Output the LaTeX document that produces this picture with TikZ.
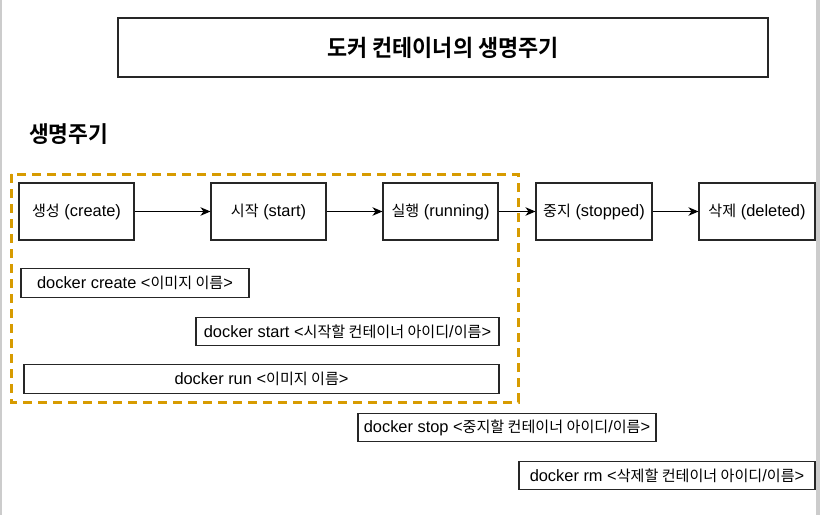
\documentclass[tikz,border=0pt]{standalone}
\usepackage{fontspec}
\setmainfont{Liberation Sans}
\newfontfamily\krf{Noto Sans CJK KR}[Scale=0.92]
\newfontfamily\krb{Noto Sans CJK KR Bold}
\newcommand{\kr}[1]{{\krf #1}}
\usetikzlibrary{arrows.meta}
\definecolor{dashorange}{HTML}{D79B00}
\begin{document}
\begin{tikzpicture}[x=1pt,y=-1pt,
  box/.style={draw=black!85,line width=1.05pt,rectangle,inner sep=0pt,fill=white,
    font=\fontsize{16.4}{19}\selectfont},
  cmd/.style={box,minimum height=28.5pt},
  state/.style={box,minimum width=115pt,minimum height=57pt},
  flow/.style={draw=black,line width=1.1pt,-{Stealth[length=10pt,width=8.5pt,inset=3pt]}},
  group/.style={draw=dashorange,line width=3pt,dash pattern=on 9pt off 6pt}]
\useasboundingbox (0,0) rectangle (820,515);
\fill[white] (0,0) rectangle (820,515);
\fill[black!20] (0,0) rectangle (2,515);
\fill[black!20] (816,0) rectangle (820,515);

\node[box,minimum width=650pt,minimum height=59pt] (title) at (443,47.5)
  {\scalebox{0.95}[1]{\krb\fontsize{23}{27}\selectfont 도커 컨테이너의 생명주기}};
\node[inner sep=0pt,anchor=west] (heading) at (29,134)
  {\scalebox{0.955}[1]{\krb\fontsize{22.5}{26}\selectfont 생명주기}};

\draw[group] (11,174) rectangle (518,402);
\coordinate (groupcorner) at (11,174);

\node[state] (create) at (76.5,211.5) {\kr{생성} (create)};
\node[state] (start) at (268.5,211.5) {\kr{시작} (start)};
\node[state] (running) at (440.5,211.5) {\kr{실행} (running)};
\node[state,minimum width=116pt] (stopped) at (594,211.5) {\kr{중지} (stopped)};
\node[state,minimum width=116pt] (deleted) at (757,211.5) {\kr{삭제} (deleted)};

\draw[flow] (create) -- (start);
\draw[flow] (start) -- (running);
\draw[flow] (running) -- (stopped);
\draw[flow] (stopped) -- (deleted);

\node[cmd,minimum width=228pt] (ccreate) at (135,283) {docker create <\kr{이미지 이름}>};
\node[cmd,minimum width=303pt] (cstart) at (347.5,331.5) {docker start <\kr{시작할 컨테이너 아이디}/\kr{이름}>};
\node[cmd,minimum width=475pt] (crun) at (261.5,379) {docker run <\kr{이미지 이름}>};
\node[cmd,minimum width=298pt] (cstop) at (507,427.5) {docker stop <\kr{중지할 컨테이너 아이디}/\kr{이름}>};
\node[cmd,minimum width=296pt] (crm) at (667,475.5) {docker rm <\kr{삭제할 컨테이너 아이디}/\kr{이름}>};
\end{tikzpicture}
\end{document}
